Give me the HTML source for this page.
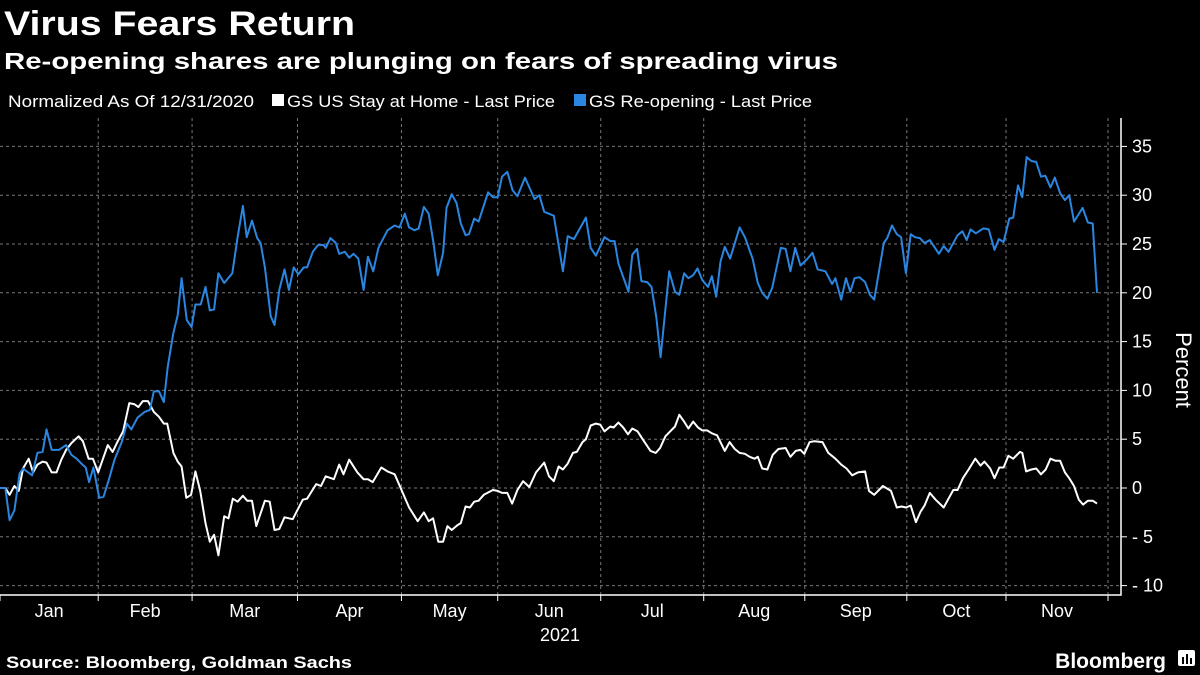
<!DOCTYPE html>
<html><head><meta charset="utf-8"><style>
body{margin:0;background:#000;width:1200px;height:675px;overflow:hidden;font-family:"Liberation Sans",sans-serif;color:#fff}
</style></head><body>
<svg width="1200" height="675" xmlns="http://www.w3.org/2000/svg" style="position:absolute;left:0;top:0">
<rect width="1200" height="675" fill="#000"/>
<text x="4" y="35" font-size="34" font-weight="bold" fill="#fff" textLength="351" lengthAdjust="spacingAndGlyphs">Virus Fears Return</text>
<text x="4" y="69" font-size="23" font-weight="bold" fill="#fff" textLength="834" lengthAdjust="spacingAndGlyphs">Re-opening shares are plunging on fears of spreading virus</text>
<g font-size="17" fill="#fff">
<text x="8" y="107" textLength="246" lengthAdjust="spacingAndGlyphs">Normalized As Of 12/31/2020</text>
<rect x="272" y="94" width="12" height="12" fill="#fff"/>
<text x="287" y="107" textLength="268" lengthAdjust="spacingAndGlyphs">GS US Stay at Home - Last Price</text>
<rect x="574" y="94" width="12" height="12" fill="#2a86e0"/>
<text x="589" y="107" textLength="223" lengthAdjust="spacingAndGlyphs">GS Re-opening - Last Price</text>
</g>
<g id="grid"></g>
<g id="axes"></g>
<g id="series"></g>
<text transform="translate(1176,370) rotate(90)" font-size="22" fill="#fff" text-anchor="middle">Percent</text>
<text x="560" y="641" font-size="18" fill="#fff" text-anchor="middle">2021</text>
<text x="6" y="668" font-size="17" font-weight="bold" fill="#fff" textLength="346" lengthAdjust="spacingAndGlyphs">Source: Bloomberg, Goldman Sachs</text>
<text x="1166" y="668" font-size="21" font-weight="bold" fill="#fff" text-anchor="end">Bloomberg</text>
<g><rect x="1178" y="650" width="17" height="16" rx="2" fill="#fff"/><rect x="1182" y="657" width="2" height="7" fill="#000"/><rect x="1186" y="654" width="2" height="10" fill="#000"/><rect x="1190" y="658" width="2" height="6" fill="#000"/></g>
</svg>
<script>
const yTicks=[35,30,25,20,15,10,5,0,-5,-10];
const monthLabels=["Jan","Feb","Mar","Apr","May","Jun","Jul","Aug","Sep","Oct","Nov"];
const monthStarts=[0,20.5,40.1,62.1,83.8,103.9,125.4,146.9,168.0,189.3,210.0,231.3];
const reT=[0,1.1,2.0,3.0,4.1,4.8,6.7,7.8,8.9,9.7,10.8,12.3,13.8,14.9,16.0,17.2,17.9,18.6,19.5,20.7,21.6,22.7,23.9,25.4,26.5,27.4,28.7,30.2,31.3,32.1,33.2,34.2,35.0,36.2,37.1,37.9,39.0,40.0,40.8,41.9,42.9,43.8,44.7,45.6,46.8,48.5,49.6,50.7,51.5,52.6,53.7,54.4,55.3,56.5,57.3,58.3,59.4,60.3,61.3,62.3,63.4,64.1,65.3,66.4,67.5,68.0,69.0,70.1,70.8,72.0,72.9,73.8,74.8,75.9,76.8,77.9,79.0,80.9,82.4,83.4,84.5,85.4,86.5,87.4,88.5,89.5,90.5,91.4,92.5,93.2,94.3,95.3,96.2,97.2,97.9,99.0,99.9,101.9,102.9,103.9,104.8,105.9,107.0,108.0,109.6,111.6,112.6,113.6,115.6,117.5,118.5,119.8,122.3,123.3,124.4,126.2,127.4,128.3,129.1,131.2,132.0,133.0,133.9,135.1,136.0,137.0,137.9,139.7,140.9,141.8,142.8,143.7,144.7,145.6,146.6,147.8,148.6,149.5,150.4,151.3,152.4,154.4,155.5,157.1,158.2,159.1,160.2,161.2,163.0,164.0,165.0,166.0,167.1,168.4,169.6,170.7,172.3,173.7,174.4,175.6,176.6,177.5,178.4,179.4,180.6,181.6,182.5,184.5,185.2,186.2,187.2,188.1,189.1,190.1,191.0,192.0,193.0,194.1,196.0,197.0,198.0,199.9,200.9,201.8,202.6,203.7,205.3,206.4,207.6,208.5,209.5,210.7,211.5,212.5,213.4,214.3,215.3,216.3,217.3,218.2,219.3,220.2,221.3,222.3,223.2,224.2,226.0,227.1,228.1,229.0];
const reV=[0,0,-3.3,-2.3,1.5,2,1.3,3.6,3.7,6,3.9,3.9,4.4,3.4,3,2.4,2.1,0.6,2.1,-1,-0.9,0.8,2.9,4.7,6.6,6,7.2,7.8,8,9.9,9.9,8.8,12.4,15.9,17.7,21.5,17.2,16.5,18.8,18.8,20.6,18.2,18.3,22,21,22,25.7,28.9,25.7,27.4,25.6,25.1,22.6,17.6,16.7,20.3,22.4,20.3,22.6,21.9,22.6,22.6,24.2,24.9,24.9,24.6,25.6,25.1,24,24.2,23.6,24,23.5,20.3,23.7,22.2,24.6,26.4,26.9,26.7,28.1,26.7,26.4,26.6,28.8,28.1,25.1,21.8,24.1,28.7,30.1,29.2,27.1,25.9,26,27.6,27.3,30.3,29.8,29.8,31.9,32.4,30.5,29.9,31.8,29.6,30,28.3,27.9,22.2,25.8,25.5,27.7,24.6,23.8,25.7,25.3,25.3,23,20.1,23.9,24.5,21.2,21.1,20.6,17.5,13.4,22.2,20.1,19.8,22,21.5,21.8,22.5,21.3,20.6,21.7,19.6,23.2,24.7,23.5,26.7,25.7,23.5,21,20,19.4,20.5,24.6,24.5,22.2,24.6,22.8,23.4,24.1,22.4,22.2,20.9,21.5,19.3,21.5,20.1,21.5,21.6,21.1,19.8,19.3,25.1,25.6,26.9,26,25.7,22,26,25.7,25.6,25.1,25.4,24,24.8,24.2,25.9,26.3,25.4,26.5,26.1,26.6,26.5,24.4,25.5,25.2,27.6,27.7,31,29.8,33.9,33.5,33.4,31.9,32,30.8,31.8,30.2,29.5,30,27.3,28.7,27.2,27.1,20];
const shT=[0,1.1,2.0,3.0,3.9,4.8,6.0,6.9,7.8,8.9,9.7,10.8,11.8,12.8,13.8,14.9,16.4,17.3,18.5,19.4,20.5,21.5,22.5,23.5,24.6,25.7,27.0,28.0,28.9,29.8,30.9,32.1,33.2,34.2,34.9,36.2,37.1,37.9,38.9,39.9,40.8,41.8,42.9,43.8,44.7,45.6,46.8,47.7,48.6,49.6,50.7,51.6,52.6,53.5,55.3,56.3,57.3,58.3,59.4,61.1,63.2,64.1,66.0,67.0,68.0,69.7,70.8,71.7,72.9,74.6,75.9,76.8,77.8,79.6,80.9,82.4,83.9,85.4,87.2,88.5,89.5,90.4,91.5,92.5,93.4,94.3,95.5,96.2,97.2,98.1,99.0,99.9,101.0,102.9,103.9,104.8,105.9,106.9,108.0,109.2,110.5,111.9,113.6,114.6,115.6,116.6,117.5,118.5,119.6,120.4,121.6,122.3,123.3,124.4,125.3,126.2,127.4,128.1,129.1,130.1,131.1,132.0,133.1,134.3,135.8,136.9,137.8,138.9,140.1,140.9,141.8,142.8,143.7,144.7,145.7,146.6,147.6,148.6,149.7,151.3,152.3,153.4,154.4,155.5,156.5,157.5,158.2,159.1,160.2,161.3,162.5,164.0,165.0,166.1,167.1,167.9,169.0,170.0,171.7,172.9,174.4,175.6,176.7,177.9,179.1,180.6,181.4,182.5,184.3,186.0,187.2,188.2,189.1,190.1,191.2,192.2,193.0,194.1,195.3,197.0,198.0,199.0,199.9,201.0,202.2,203.6,204.7,205.5,206.7,207.6,208.6,209.5,210.5,211.5,212.9,213.4,214.2,215.3,216.3,217.3,218.3,219.3,220.3,221.3,222.3,223.2,224.2,225.2,226.1,227.1,228.1,229.0];
const shV=[0,0,-0.7,0.2,-0.3,2,3.0,1.6,2.4,2.7,2.6,1.6,1.6,2.9,3.9,4.6,5.3,4.8,3.0,3.0,1.6,3.0,4.4,3.7,4.8,5.8,8.7,8.6,8.3,8.9,8.9,7.8,7.3,6.6,6.6,3.6,2.7,2.2,-1.0,-0.7,1.7,-0.3,-3.6,-5.5,-4.8,-6.9,-2.9,-3.1,-1.1,-1.4,-0.8,-1.3,-1.3,-3.9,-1.3,-1.4,-4.3,-4.2,-3.0,-3.2,-1.2,-1.1,0.4,0.2,1.2,0.9,2.4,1.4,2.9,1.6,0.9,0.9,0.6,2.1,1.7,1.4,-0.3,-2.0,-3.4,-2.5,-3.4,-3.1,-5.5,-5.5,-3.9,-4.3,-3.8,-3.6,-1.9,-2.0,-1.4,-1.3,-0.7,-0.2,-0.3,-0.5,-0.5,-1.6,-0.2,0.7,0.1,1.6,2.6,1.2,0.7,2.2,1.9,2.5,3.6,3.7,4.7,5.0,6.4,6.6,6.5,5.8,6.3,6.2,6.7,6.2,5.5,6.1,5.8,4.9,3.8,3.6,4.1,5.3,5.9,6.3,7.5,6.8,6.1,6.8,6.2,5.9,5.9,5.6,5.4,3.8,4.7,4.0,3.6,3.5,3.2,3.0,3.2,2.0,1.9,3.4,4.0,4.1,3.2,3.8,3.9,3.5,4.7,4.8,4.7,3.6,3.0,2.4,2.0,1.3,1.6,1.7,-0.3,-0.7,0.2,-0.3,-2.0,-1.9,-2.0,-1.8,-3.5,-2.4,-1.8,-0.5,-1.2,-2.0,-1.1,-0.2,-0.2,1.0,1.9,3.0,2.3,2.7,2.0,1.0,2.1,2.1,3.3,3.0,3.7,3.6,1.7,1.9,2.0,1.4,1.9,3.0,2.8,2.8,1.6,1.0,0.2,-1.2,-1.7,-1.3,-1.3,-1.6];

const NS="http://www.w3.org/2000/svg";
const X0=0,PX=1097/229,PLOT_R=1121,PLOT_T=118,PLOT_B=595;
function xs(t){return X0+t*PX;}
function ys(v){return 488-v*9.76;}
function mk(tag,attrs,parent){const e=document.createElementNS(NS,tag);for(const k in attrs)e.setAttribute(k,attrs[k]);parent.appendChild(e);return e;}
const grid=document.getElementById('grid'),axes=document.getElementById('axes'),series=document.getElementById('series');
yTicks.forEach(v=>{
  const l=mk('line',{x1:0,x2:PLOT_R,y1:ys(v),y2:ys(v),stroke:'#777','stroke-width':1,'stroke-dasharray':'3,3'},grid);
  
  
  const tk=mk('line',{x1:PLOT_R,x2:PLOT_R+6,y1:ys(v),y2:ys(v),stroke:'#fff','stroke-width':1},axes);
  
  
  const t=mk('text',{x:PLOT_R+11,y:ys(v)+6,'font-size':18,fill:'#fff'},axes);
  t.textContent=(v<0?'- '+(-v):String(v));
  
  
});
monthStarts.forEach((m,i)=>{
  if(i>0){
    const g=mk('line',{x1:xs(m),x2:xs(m),y1:PLOT_T,y2:PLOT_B,stroke:'#777','stroke-width':1,'stroke-dasharray':'3,3'},grid);
    
    
  }
  const tk=mk('line',{x1:xs(m),x2:xs(m),y1:PLOT_B,y2:PLOT_B+6,stroke:'#fff','stroke-width':1},axes);
  
  
  if(i<monthLabels.length){
    const t=mk('text',{x:(xs(m)+xs(monthStarts[i+1]))/2,y:617,'font-size':18,fill:'#fff','text-anchor':'middle'},axes);
    t.textContent=monthLabels[i];
    
    
  }
});
const ax=mk('path',{d:`M0 ${PLOT_B} H${PLOT_R} V${PLOT_T}`,stroke:'#fff','stroke-width':1.5,fill:'none'},axes);


function line(T,V,color,name){
  const d=T.map((t,i)=>(i?'L':'M')+xs(t).toFixed(1)+' '+ys(V[i]).toFixed(1)).join(' ');
  const p=mk('path',{d:d,stroke:color,'stroke-width':2,fill:'none','stroke-linejoin':'round'},series);
  
  
}
line(shT,shV,'#ffffff','stay-at-home-line');
line(reT,reV,'#2a86e0','reopening-line');
</script>
</body></html>
